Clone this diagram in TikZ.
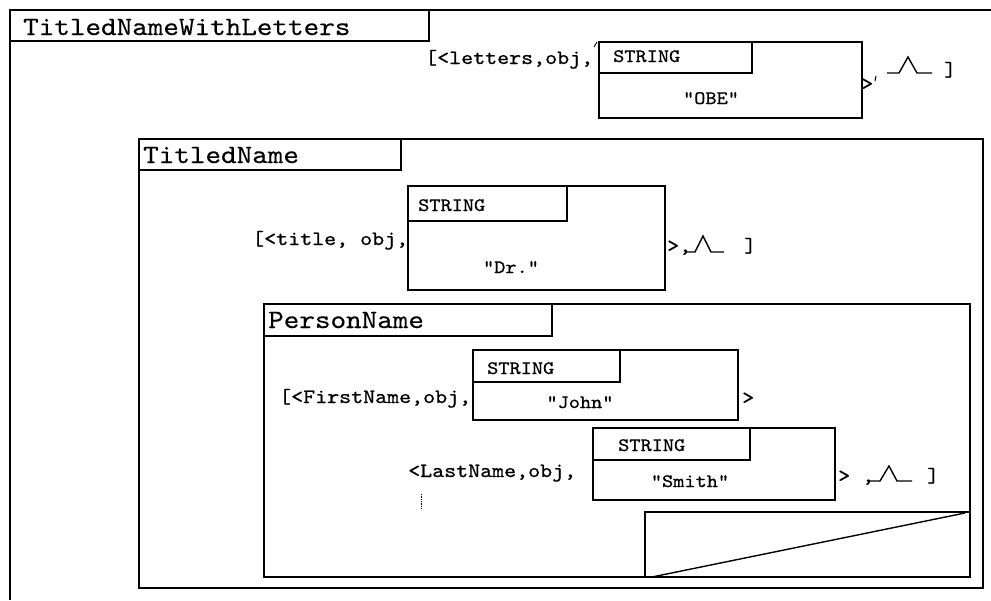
\documentclass[tikz,border=0pt]{standalone}
\usepackage{fontspec}
\setmonofont{lmmono10-regular.otf}[FakeStretch=1.12,FakeBold=0.7]
\newfontfamily\headfont{lmmono10-regular.otf}[FakeStretch=1.12,FakeBold=0.3]
\begin{document}
\begin{tikzpicture}[x=1pt,y=-1pt,
  frame/.style={draw=black,line width=1.4pt},
  titletext/.style={font=\headfont\fontsize{26.5}{26.5}\selectfont,anchor=base west,inner sep=0pt},
  bodytext/.style={font=\ttfamily\fontsize{20.4}{20.4}\selectfont,anchor=base west,inner sep=0pt},
  tagtext/.style={font=\ttfamily\fontsize{19}{19}\selectfont,anchor=base west,inner sep=0pt},
  valtext/.style={font=\ttfamily\fontsize{19}{19}\selectfont,anchor=base,inner sep=0pt},
  wave/.style={draw=black,line width=1.4pt,line join=miter}]
\useasboundingbox (0,0) rectangle (991,600);

% outermost frame: TitledNameWithLetters
\draw[frame] (991,10) -- (10,10) -- (10,600);
\draw[frame] (10,10) rectangle (429,41);
\node[titletext] (t1) at (23,35) {TitledNameWithLetters};

% letters attribute
\node[bodytext] (l1) at (425,64) {[<letters,obj,};
\draw[frame] (599,42) rectangle (862,118);
\draw[frame] (599,42) rectangle (752,73);
\draw[line width=0.9pt] (597,42) -- (594,47);
\node[tagtext] (s1) at (613,62) {STRING};
\node[valtext] (v1) at (711,104) {"OBE"};
\node[bodytext] (g1) at (861,90) {>};
\draw[line width=1pt] (876,76) -- (875,81);
\draw[wave] (887,73) -- (899,73) -- (908,57) -- (917,73) -- (932,73);
\node[bodytext] (b1) at (944,76) {]};

% TitledName frame
\draw[frame] (139,139) rectangle (983,588);
\draw[frame] (139,139) rectangle (401,170);
\node[titletext] (t2) at (143,163) {TitledName};

% title attribute
\node[bodytext] (l2) at (252,245) {[<title, obj,};
\draw[frame] (408,186) rectangle (665,290);
\draw[frame] (408,186) rectangle (567,221);
\node[tagtext] (s2) at (418,211) {STRING};
\node[valtext] (v2) at (511,273) {"Dr."};
\node[bodytext] (g2) at (667,252) {>,};
\draw[wave] (685,252) -- (695,252) -- (703,236) -- (711,252) -- (724,252);
\node[bodytext] (b2) at (744,252) {]};

% PersonName frame
\draw[frame] (264,304) rectangle (970,577);
\draw[frame] (264,304) rectangle (552,336);
\node[titletext] (t3) at (268,328) {PersonName};

% FirstName attribute
\node[bodytext] (l3) at (279,403) {[<FirstName,obj,};
\draw[frame] (473,350) rectangle (738,420);
\draw[frame] (473,350) rectangle (620,382);
\node[tagtext] (s3) at (487,374) {STRING};
\node[valtext] (v3) at (580,408) {"John"};
\node[bodytext] (g3) at (742,404) {>};

% LastName attribute
\node[bodytext] (l4) at (408,477) {<LastName,obj,};
\draw[frame] (593,428) rectangle (835,500);
\draw[frame] (593,428) rectangle (750,460);
\node[tagtext] (s4) at (618,451) {STRING};
\node[valtext] (v4) at (690,487) {"Smith"};
\node[bodytext] (g4) at (838,482) {>~,};
\draw[wave] (869,481) -- (880,481) -- (889,466) -- (897,481) -- (912,481);
\node[bodytext] (b4) at (927,482) {]};
\draw[line width=0.7pt,densely dotted] (421,494) -- (421,508);

% lower right panel with diagonal
\draw[frame] (645,512) rectangle (970,577);
\draw[frame] (652,577) -- (965,513);
\end{tikzpicture}
\end{document}
